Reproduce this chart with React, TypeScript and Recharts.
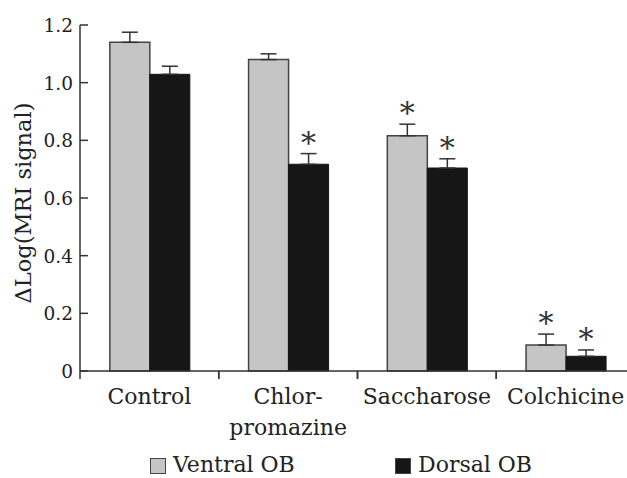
import { Bar, BarChart, ErrorBar, LabelList, Legend, XAxis, YAxis } from 'recharts';

const categories = ['Control', 'Chlor-\npromazine', 'Saccharose', 'Colchicine'];
const ventral = [1.14, 1.08, 0.816, 0.09];
const ventralErr = [0.035, 0.02, 0.04, 0.038];
const dorsal = [1.029, 0.717, 0.704, 0.051];
const dorsalErr = [0.028, 0.037, 0.032, 0.022];
const ventralSig = [false, false, true, true];
const dorsalSig = [false, true, true, true];
const yTicks = [0, 0.2, 0.4, 0.6, 0.8, 1.0, 1.2];

const FONT = '"DejaVu Serif", serif';
const INK = '#222';
const GRAY = '#c4c5c4';
const DARK = '#161616';

const data = categories.map((name, i) => ({
  name,
  ventral: ventral[i],
  ventralErr: [0, ventralErr[i]],
  dorsal: dorsal[i],
  dorsalErr: [0, dorsalErr[i]],
}));

function YTick({ x, y, payload }: any) {
  const v = payload.value;
  const label = v === 0 ? '0' : v.toFixed(1);
  return (
    <g>
      <line x1={x} x2={x + 8} y1={y} y2={y} stroke="#333" strokeWidth={1.5} />
      <text x={x - 7} y={y + 7} textAnchor="end" fontSize={18.5} fontFamily={FONT} fill={INK}>
        {label}
      </text>
    </g>
  );
}

// category label at the band centre, tick marks on the band edges
function XTick({ x, y, payload, width, visibleTicksCount }: any) {
  const band = width / visibleTicksCount;
  const lines = String(payload.value).split('\n');
  return (
    <g>
      <line x1={x - band / 2} x2={x - band / 2} y1={y} y2={y + 8} stroke="#333" strokeWidth={1.5} />
      <line x1={x + band / 2} x2={x + band / 2} y1={y} y2={y + 8} stroke="#333" strokeWidth={1.5} />
      <text x={x} y={y + 33} textAnchor="middle" fontSize={22} fontFamily={FONT} fill={INK}>
        {lines.map((l, i) => (
          <tspan key={i} x={x} dy={i === 0 ? 0 : 31}>
            {l}
          </tspan>
        ))}
      </text>
    </g>
  );
}

const star = (sig: boolean[], err: number[]) => (props: any) => {
  const { x, y, width, height, value, index } = props;
  if (!sig[index]) return null;
  const top = y - (err[index] * height) / value;
  return (
    <text x={x + width / 2} y={top - 1} textAnchor="middle" fontSize={30} fontFamily={FONT} fill="#333">
      *
    </text>
  );
};

function YLabel() {
  return (
    <text
      transform="translate(23,203) rotate(-90)"
      textAnchor="middle"
      dominantBaseline="central"
      fontSize={22.5}
      fontFamily={FONT}
      fill={INK}
    >
      ΔLog(MRI signal)
    </text>
  );
}

function ChartLegend() {
  const item = (left: number, color: string, text: string) => (
    <div style={{ position: 'absolute', left, top: 0, display: 'flex', alignItems: 'center', height: 30 }}>
      <span
        style={{
          display: 'inline-block',
          width: 14,
          height: 14,
          background: color,
          border: '1.5px solid #444',
          marginRight: 7,
          marginTop: 6,
        }}
      />
      <span style={{ fontFamily: FONT, fontSize: 22, color: INK, marginTop: 3 }}>{text}</span>
    </div>
  );
  return (
    <div style={{ position: 'relative', width: 627, height: 30 }}>
      {item(150, GRAY, 'Ventral OB')}
      {item(395, DARK, 'Dorsal OB')}
    </div>
  );
}

export default function App() {
  return (
    <div style={{ position: 'absolute', left: 0, top: 0, width: 627, height: 478, overflow: 'hidden', background: '#fff' }}>
      <BarChart
        width={640}
        height={478}
        data={data}
        margin={{ top: 25, right: 5, bottom: 0, left: 0 }}
        barCategoryGap="21.5%"
        barGap={0}
      >
        <XAxis
          dataKey="name"
          interval={0}
          height={77}
          stroke="#333"
          strokeWidth={1.5}
          tickLine={false}
          tickSize={0}
          tickMargin={0}
          tick={<XTick />}
        />
        <YAxis
          domain={[0, 1.2]}
          ticks={yTicks}
          interval={0}
          width={80}
          stroke="#333"
          strokeWidth={1.5}
          tickLine={false}
          tickSize={0}
          tickMargin={0}
          tick={<YTick />}
          label={<YLabel />}
        />
        <Legend verticalAlign="bottom" wrapperStyle={{ left: 0, width: 627 }} content={<ChartLegend />} />
        <Bar dataKey="ventral" fill={GRAY} stroke="#444" strokeWidth={1.5} isAnimationActive={false}>
          <ErrorBar dataKey="ventralErr" width={8} stroke="#333" strokeWidth={1.5} direction="y" />
          <LabelList dataKey="ventral" content={star(ventralSig, ventralErr)} />
        </Bar>
        <Bar dataKey="dorsal" fill={DARK} stroke={DARK} strokeWidth={1} isAnimationActive={false}>
          <ErrorBar dataKey="dorsalErr" width={8} stroke="#333" strokeWidth={1.5} direction="y" />
          <LabelList dataKey="dorsal" content={star(dorsalSig, dorsalErr)} />
        </Bar>
      </BarChart>
    </div>
  );
}
